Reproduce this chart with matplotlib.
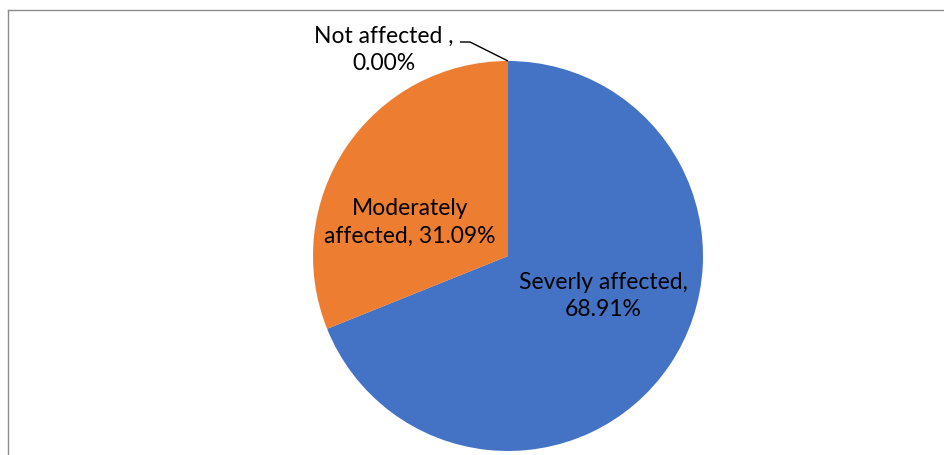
import matplotlib
matplotlib.use("Agg")
import matplotlib.pyplot as plt

# Share of respondents by impact level
categories = ["Severly affected", "Moderately affected", "Not affected "]
shares = [68.91, 31.09, 0.00]
colors = ["#4472C4", "#ED7D31", "#A5A5A5"]

W, H = 944, 455
fig = plt.figure(figsize=(W / 100, H / 100), dpi=100)
ax = fig.add_axes([0, 0, 1, 1])

cx, cy, r = 508, H - 256, 195
ax.pie(shares, colors=colors, startangle=90, counterclock=False,
       center=(cx, cy), radius=r, frame=False,
       wedgeprops=dict(linewidth=0))
ax.set_xlim(0, W)
ax.set_ylim(0, H)
ax.set_aspect("equal")
ax.axis("off")

font = dict(family=["Lato", "DejaVu Sans"], fontsize=16.5, color="#000000",
            ha="center", va="center", linespacing=1.4)

ax.text(603, H - 296, f"{categories[0]},\n{shares[0]:.2f}%", **font)
ax.text(410, H - 222, f"Moderately\naffected, {shares[1]:.2f}%", **font)
ax.text(384, H - 50, f"{categories[2]},\n{shares[2]:.2f}%", **font)

# leader line for the zero slice
ax.plot([460, 470, cx], [H - 42, H - 42, H - 61], color="#000000", lw=1.0,
        solid_capstyle="butt")

# chart area border
fig.add_artist(plt.Line2D([8 / W, 8 / W], [0, 1 - 10 / H], transform=fig.transFigure,
                          color="#8c8c8c", lw=1.0))
fig.add_artist(plt.Line2D([8 / W, 1], [1 - 10 / H, 1 - 10 / H], transform=fig.transFigure,
                          color="#8c8c8c", lw=1.0))

fig.savefig("out.png", dpi=100, facecolor="white")
